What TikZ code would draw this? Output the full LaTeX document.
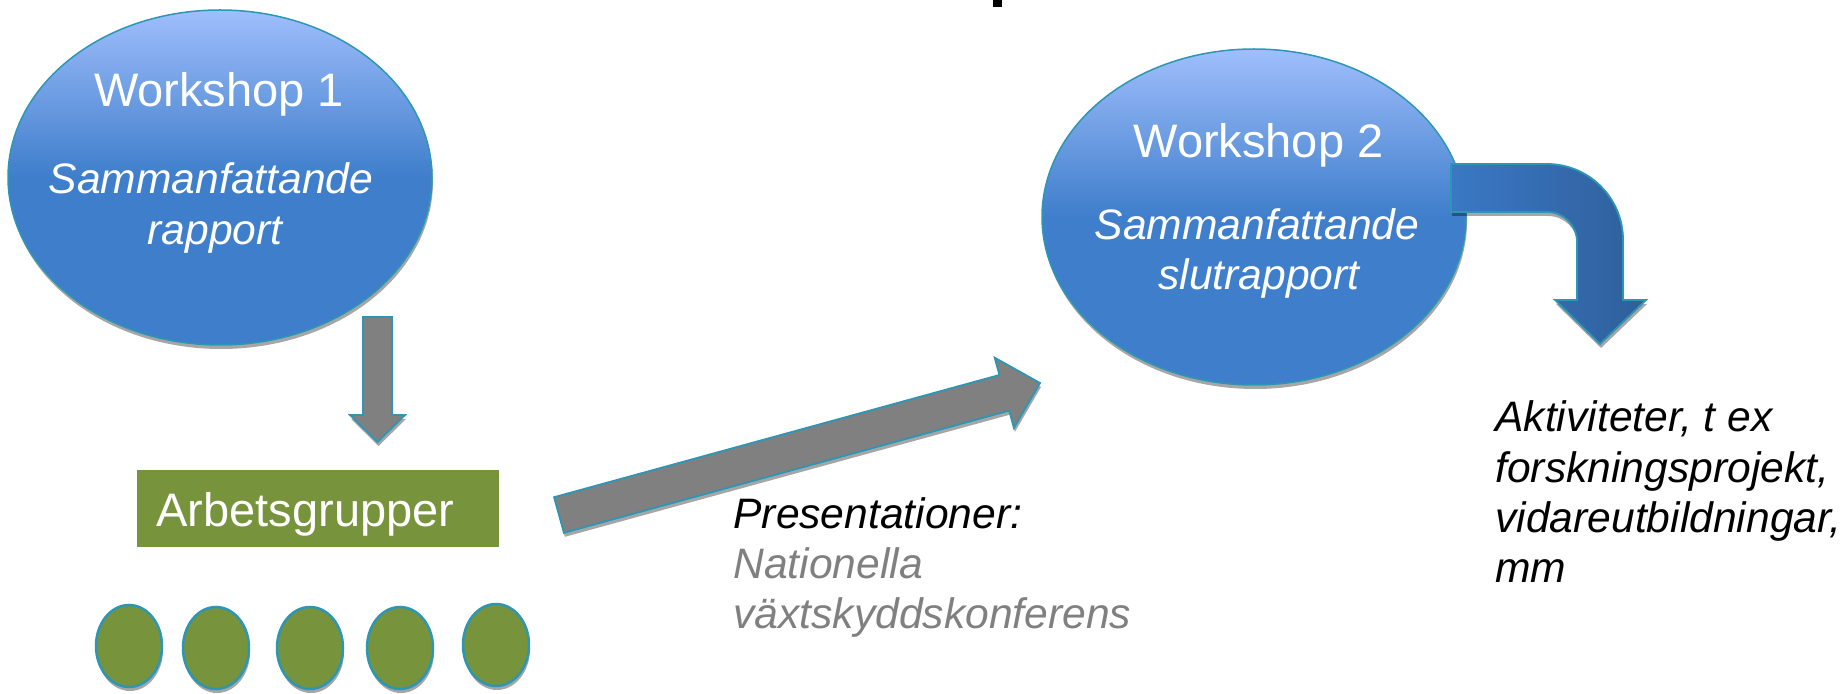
\documentclass[tikz,border=0pt]{standalone}
\usepackage{fontspec}
\setmainfont{Liberation Sans}
\usetikzlibrary{shapes.geometric,shadows}
\definecolor{wtop}{HTML}{9FBEFC}
\definecolor{wmid}{HTML}{3E7ECB}
\definecolor{edgec}{HTML}{2E96B5}
\definecolor{grn}{HTML}{77933C}
\definecolor{garr}{HTML}{808080}
\definecolor{bl}{HTML}{3A78C5}
\definecolor{br}{HTML}{2F5F9A}
\definecolor{gtext}{HTML}{808080}
\tikzset{
  shad/.style={drop shadow={shadow xshift=0.5pt, shadow yshift=-2pt, opacity=0.35, fill=black}},
  ws/.style={ellipse, draw=edgec, line width=0.75pt, top color=wtop, bottom color=wmid, middle color=wmid,
    minimum width=212pt, minimum height=168pt, inner sep=0pt, shad},
  gel/.style={ellipse, draw=edgec, line width=1.25pt, fill=grn, minimum width=33pt, minimum height=41pt, inner sep=0pt, shad},
  garrow/.style={draw=edgec, line width=0.9pt, fill=garr, line join=miter, shad},
  barrow/.style={draw=edgec, line width=0.9pt, left color=bl, right color=br, line join=miter, shad},
  wl/.style={inner sep=0pt, anchor=base, text=white, font=\fontsize{23.5}{28}\selectfont},
  wi/.style={inner sep=0pt, anchor=base, text=white, font=\fontsize{21.3}{25}\selectfont\itshape},
  bi/.style={inner sep=0pt, anchor=base west, text=black, font=\fontsize{21.3}{25}\selectfont\itshape},
}
\begin{document}
\begin{tikzpicture}[x=0.5pt,y=-0.5pt]
\useasboundingbox (0,0) rectangle (1845,694);
\fill[black] (993,0) rectangle (1002,7);

% Workshop 1
\node[ws, minimum height=167.5pt] (ws1) at (220,177.5) {};
\node[wl] (ws1a) at (219,107) {Workshop 1};
\node[wi] (ws1b) at (211,194) {Sammanfattande};
\node[wi] (ws1c) at (215,245) {rapport};

% down arrow
\draw[garrow] (363,317) -- (392,317) -- (392,415) -- (405,415) -- (377.5,442) -- (350,415) -- (363,415) -- cycle;

% Arbetsgrupper
\node[fill=grn, minimum width=181pt, minimum height=38.5pt, inner sep=0pt, anchor=north west] (ag) at (137,470) {};
\node[inner sep=0pt, anchor=base west, text=white, font=\fontsize{23.5}{28}\selectfont] (agt) at (156,526) {Arbetsgrupper};

% small groups
\node[gel] (g1) at (129,646) {};
\node[gel] (g2) at (216,648) {};
\node[gel] (g3) at (310,648) {};
\node[gel] (g4) at (400,648) {};
\node[gel] (g5) at (496,645) {};

% big diagonal arrow
\draw[garrow] (554.1,497.2) -- (999.4,375.0) -- (994.7,357.7) -- (1040,383) -- (1013.9,427.9) -- (1009.2,410.6) -- (563.9,532.8) -- cycle;

% Presentationer
\node[bi] (p1) at (733,528) {Presentationer:};
\node[bi, text=gtext] (p2) at (733,578) {Nationella};
\node[bi, text=gtext] (p3) at (733,628) {växtskyddskonferens};

% Workshop 2
\node[ws] (ws2) at (1254,217) {};
\node[wl] (ws2a) at (1258.5,158) {Workshop 2};
\node[wi] (ws2b) at (1257,240) {Sammanfattande};
\node[wi] (ws2c) at (1259,290) {slutrapport};

% bent arrow
\draw[barrow] (1451,164) -- (1547,164) .. controls (1589,164) and (1623,198) .. (1623,240)
  -- (1623,300) -- (1646,300) -- (1600,344) -- (1555,300) -- (1577,300) -- (1577,242)
  .. controls (1577,225.4) and (1563.6,212) .. (1547,212) -- (1451,212) -- cycle;

% Aktiviteter
\node[bi] (a1) at (1495,432) {Aktiviteter, t ex};
\node[bi] (a2) at (1495,482) {forskningsprojekt,};
\node[bi] (a3) at (1495,532) {vidareutbildningar,};
\node[bi] (a4) at (1495,582) {mm};
\end{tikzpicture}
\end{document}
